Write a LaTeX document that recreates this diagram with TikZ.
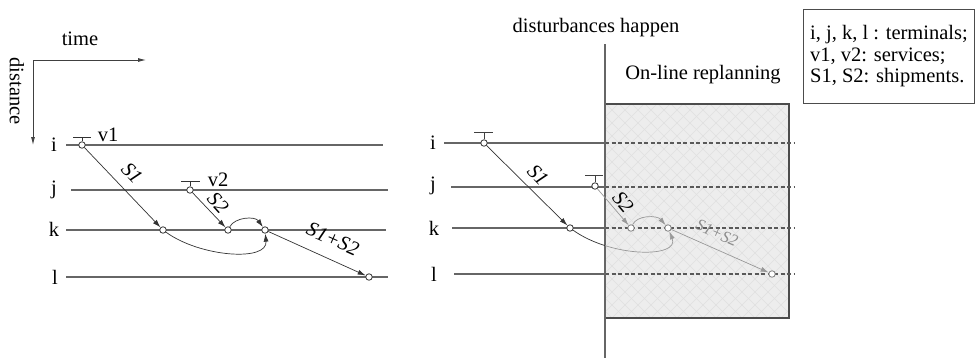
\documentclass[tikz,border=0pt]{standalone}
\usepackage{fontspec}
\setmainfont{Liberation Serif}
\usetikzlibrary{arrows.meta}
\begin{document}
\begin{tikzpicture}[x=1pt,y=-1pt,
  txt/.style={font=\fontsize{20.5}{21.5}\selectfont, inner sep=0pt},
  slab/.style={font=\fontsize{20.5}{21.5}\selectfont\itshape, inner sep=0pt},
  station/.style={circle, draw=black!80, fill=white, line width=0.8pt, minimum size=6.5pt, inner sep=0pt},
  gstation/.style={station, draw=black!50},
  track/.style={draw=black!60, line width=1.1pt},
  dtrack/.style={draw=black!65, line width=1.1pt, dash pattern=on 4pt off 2.5pt},
  flow/.style={draw=black!80, line width=0.7pt, -{Latex[length=8pt,width=5pt]}},
  gflow/.style={draw=black!40, line width=0.7pt, -{Latex[length=8pt,width=5pt]}},
  axis/.style={draw=black!75, line width=0.8pt, -{Latex[length=8pt,width=4pt]}},
  tbar/.style={draw=black!80, line width=0.8pt},
  gtbar/.style={draw=black!75, line width=0.8pt}
]
\useasboundingbox (0,0) rectangle (976,359);

% ---------------- left diagram ----------------
\coordinate (orig) at (33,60);
\coordinate (timeend) at (146,60);
\coordinate (distend) at (33,145);
\draw[axis] (orig) -- (timeend);
\draw[axis] (orig) -- (distend);
\node[txt] (time) at (80,39) {time};
\node[txt, rotate=-90] (distance) at (17,91) {distance};

\node[txt] (ti) at (54,145) {i};
\node[txt] (tj) at (54,190) {j};
\node[txt] (tk) at (54,229) {k};
\node[txt] (tl) at (55,277) {l};

\draw[track] (66,145) -- (383,145);
\draw[track] (71,190) -- (388,190);
\draw[track] (66,230) -- (386,230);
\draw[track] (66,277) -- (388,277);

\node[station] (v1) at (82,145) {};
\node[station] (v2) at (190,190) {};
\node[station] (ka) at (163,230) {};
\node[station] (kb) at (228,230) {};
\node[station] (kc) at (265,230) {};
\node[station] (la) at (369,277) {};

\draw[tbar] (v1.north) -- (82,137) (73,137) -- (91,137);
\draw[tbar] (v2.north) -- (190,181) (181,181) -- (200,181);
\node[txt] (v1lab) at (108,135) {v1};
\node[txt] (v2lab) at (218,180) {v2};

\draw[flow] (v1) -- (ka);
\draw[flow] (v2) -- (kb);
\draw[flow] (kb) .. controls (235,217) and (255,216) .. (kc);
\draw[flow] (ka) .. controls (200,257) and (268,262) .. (kc);
\draw[flow] (kc) -- (la);

\node[slab, rotate=-46] (s1l) at (132,173) {S1};
\node[slab, rotate=-48] (s2l) at (218,203) {S2};
\node[slab, rotate=-24] (s12l) at (333,239) {S1+S2};

% ---------------- right diagram ----------------
\node[txt] (dist) at (596,28) {disturbances happen};
\node[txt] (repl) at (703,75) {On-line replanning};

% shaded box
\fill[black!7] (605,104) rectangle (789,318);
\begin{scope}
  \clip (605,104) rectangle (789,318);
  \foreach \k in {0,13,...,420} {
    \draw[black!12, line width=0.6pt] (605+\k-220,104) -- (605+\k,324);
    \draw[black!12, line width=0.6pt] (605+\k,104) -- (605+\k-220,324);
  }
\end{scope}
\draw[black!70, line width=1.1pt] (605,104) rectangle (789,318);

\node[txt] (ri) at (433,143) {i};
\node[txt] (rj) at (433,186) {j};
\node[txt] (rk) at (434,228) {k};
\node[txt] (rl) at (434,274) {l};

\draw[track] (444,143) -- (605,143);
\draw[track] (451,187) -- (605,187);
\draw[track] (452,228) -- (605,228);
\draw[track] (454,274) -- (605,274);
\draw[dtrack] (605,143) -- (795,143);
\draw[dtrack] (605,187) -- (795,187);
\draw[dtrack] (605,228) -- (795,228);
\draw[dtrack] (605,274) -- (795,274);

\coordinate (dtop) at (605,44);
\coordinate (dbot) at (605,358);
\draw[draw=black!60, line width=1.1pt] (dtop) -- (dbot);

\node[station] (rv1) at (484,143) {};
\node[station] (rv2) at (595,186) {};
\node[station] (rka) at (570,228) {};
\node[gstation] (rkb) at (631,228) {};
\node[gstation] (rkc) at (668,228) {};
\node[gstation] (rla) at (772,274) {};

\draw[gtbar] (rv1.north) -- (484,132) (474,132) -- (493,132);
\draw[gtbar] (rv2.north) -- (595,175) (585,175) -- (603,175);

\draw[flow] (rv1) -- (rka);
\draw[gflow] (rv2) -- (rkb);
\draw[gflow] (rkb) .. controls (637,215) and (657,215) .. (rkc);
\begin{scope}
  \clip (400,200) rectangle (605,300);
  \draw[flow] (rka) .. controls (612,258) and (680,258) .. (rkc);
\end{scope}
\begin{scope}
  \clip (605,200) rectangle (800,300);
  \draw[gflow] (rka) .. controls (612,258) and (680,258) .. (rkc);
\end{scope}
\draw[gflow] (rkc) -- (rla);

\node[slab, rotate=-46] (rs1l) at (538,175) {S1};
\node[slab, rotate=-50] (rs2l) at (623,202) {S2};
\node[slab, rotate=-24, text=black!45, font=\fontsize{16.5}{18}\selectfont\itshape] (rs12l) at (717,233) {S1+S2};

% ---------------- legend ----------------
\node[txt, draw=black!70, line width=0.9pt, anchor=north west, align=left,
      minimum width=171pt, minimum height=94pt, inner sep=5pt] (legend) at (803,9)
  {i, j, k, l : terminals;\\v1, v2: services;\\S1, S2: shipments.};
\end{tikzpicture}
\end{document}
